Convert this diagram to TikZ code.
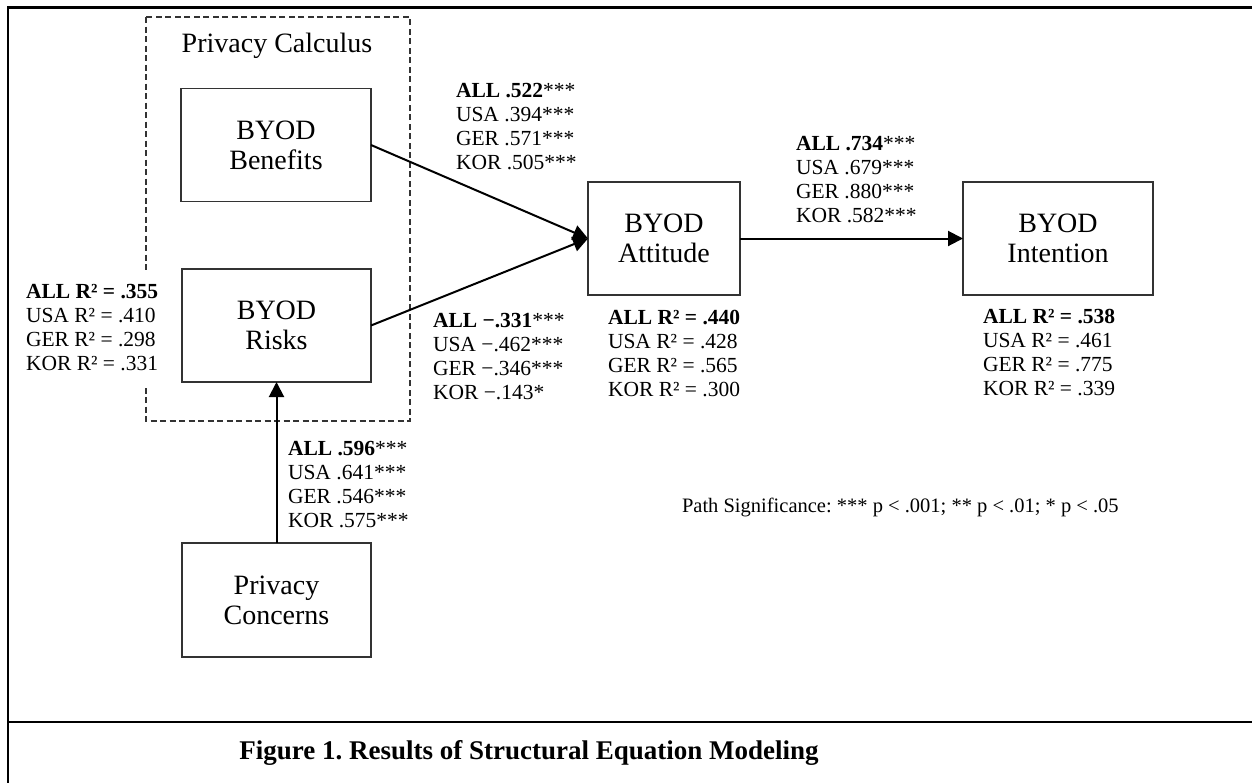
\documentclass[tikz,border=0pt]{standalone}
\usepackage{fontspec}
\setmainfont{Liberation Serif}
\usetikzlibrary{arrows.meta}
% stacked coefficient lines, baseline at the first row
\newcommand\coeflines[1]{\begin{tabular}[t]{@{}l@{}}#1\end{tabular}}
\frenchspacing

\begin{document}
\begin{tikzpicture}[x=1pt,y=-1pt,
  every node/.style={inner sep=0pt, outer sep=0pt},
  construct/.style={draw=black!80, line width=1.3pt, minimum height=113pt,
    align=center, font=\fontsize{28}{30}\selectfont},
  coef/.style={anchor=base west, font=\fontsize{21.5}{24}\selectfont},
  patharrow/.style={line width=2pt, -{Triangle[length=15pt,width=15pt]}},
  frameline/.style={line width=2.3pt},
  groupbox/.style={draw=black!80, line width=1.3pt, dash pattern=on 6pt off 3.5pt}]

\useasboundingbox (0,0) rectangle (1252,782);

% outer frame and caption divider
\draw[frameline, line join=miter] (1260,7.5) -- (8,7.5) -- (8,790);
\draw[frameline] (8,722) -- (1260,722);

% privacy calculus group
\draw[groupbox] (146,17) rectangle (410,421);
\node[anchor=base, font=\fontsize{28}{30}\selectfont] (calc) at (277,52) {Privacy Calculus};

% constructs
\node[construct, minimum width=190pt] (ben) at (276,145) {BYOD\\Benefits};
\node[construct, minimum width=189pt] (risk) at (276.5,325.5) {BYOD\\Risks};
\node[construct, minimum width=152pt] (att) at (664,238.5) {BYOD\\Attitude};
\node[construct, minimum width=190pt] (int) at (1058,238.5) {BYOD\\Intention};
\node[construct, minimum width=189pt, minimum height=114pt] (conc) at (276.5,600) {Privacy\\Concerns};

% paths
\draw[patharrow] (ben.east) -- (att.west);
\draw[patharrow] (risk.east) -- (att.west);
\draw[patharrow] (att.east) -- (int.west);
\draw[patharrow] (conc.north) -- (risk.south);

% explained variance
\node[coef, fill=white, inner ysep=11pt] (r2risk) at (26,298) {\coeflines{%
  \textbf{ALL R² = .355}\\ USA R² = .410\\ GER R² = .298\\ KOR R² = .331}};
\node[coef] (r2att) at (608,324) {\coeflines{%
  \textbf{ALL R² = .440}\\ USA R² = .428\\ GER R² = .565\\ KOR R² = .300}};
\node[coef] (r2int) at (983,323) {\coeflines{%
  \textbf{ALL R² = .538}\\ USA R² = .461\\ GER R² = .775\\ KOR R² = .339}};

% path coefficients
\node[coef] (pben) at (456,97) {\coeflines{%
  \textbf{ALL .522}***\\ USA .394***\\ GER .571***\\ KOR .505***}};
\node[coef] (prisk) at (433,327) {\coeflines{%
  \textbf{ALL −.331}***\\ USA −.462***\\ GER −.346***\\ KOR −.143*}};
\node[coef] (patt) at (796,150) {\coeflines{%
  \textbf{ALL .734}***\\ USA .679***\\ GER .880***\\ KOR .582***}};
\node[coef] (pconc) at (288,455) {\coeflines{%
  \textbf{ALL .596}***\\ USA .641***\\ GER .546***\\ KOR .575***}};

% significance legend
\node[anchor=base west, font=\fontsize{20.5}{24}\selectfont] (legend) at (682,512)
  {Path Significance: *** p < .001; ** p < .01; * p < .05};

% caption
\node[anchor=base, font=\bfseries\fontsize{27}{30}\selectfont] (caption) at (529,759)
  {Figure 1. Results of Structural Equation Modeling};
\end{tikzpicture}
\end{document}
